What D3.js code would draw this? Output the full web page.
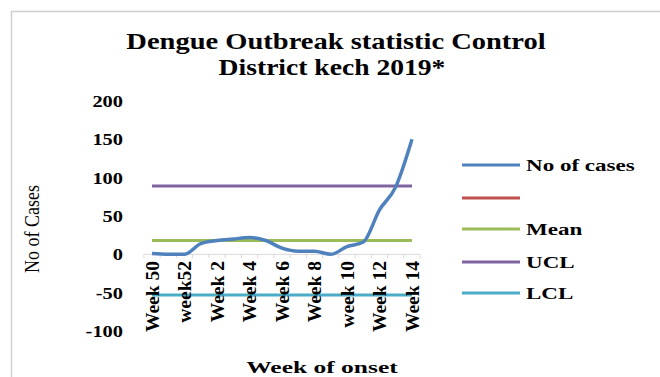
<!DOCTYPE html>
<html>
<head>
<meta charset="utf-8">
<script src="https://cdn.jsdelivr.net/npm/d3@7/dist/d3.min.js"></script>
<style>
  html, body { margin: 0; padding: 0; background: #fff; }
  svg { display: block; }
  text { font-family: "Liberation Serif", "Times New Roman", serif; fill: #000; }
</style>
</head>
<body>
<svg id="chart" width="660" height="377"></svg>
<script>
// Weekly dengue cases, week 50 (2018) through week 14 (2019)
const weeks = ["Week 50", "Week 51", "week52", "Week 1", "Week 2", "Week 3", "Week 4", "Week 5",
               "Week 6", "Week 7", "Week 8", "Week 9", "week 10", "Week 11", "Week 12", "Week 13", "Week 14"];
const cases = [1, 0, 0, 14, 18, 20, 22, 18, 8, 4, 4, 0, 10, 16, 58, 88, 150];
const meanValue = 18;
const uclValue = 89;
const lclValue = -53;
const yTicks = [200, 150, 100, 50, 0, -50, -100];
// every other week gets a label on the category axis
const labelledWeeks = ["Week 50", "week52", "Week 2", "Week 4", "Week 6", "Week 8", "week 10", "Week 12", "Week 14"];
const legendNames = ["No of cases", "", "Mean", "UCL", "LCL"];
const legendColors = ["#4F81BD", "#C0504D", "#9BBB59", "#8064A2", "#4BACC6"];

const svg = d3.select("#chart");

// outer chart frame
svg.append("rect")
  .attr("x", 11.5).attr("y", 11.5)
  .attr("width", 700).attr("height", 400)
  .attr("fill", "none").attr("stroke", "#d0d0d0").attr("stroke-width", 1.5);

// wide serif text: anchor at (x, y), then stretch horizontally
function wideText(g, x, y, sx, txt) {
  return g.append("text")
    .attr("transform", `translate(${x},${y}) scale(${sx},1)`)
    .text(txt);
}

// title
const titleG = svg.append("g")
  .attr("text-anchor", "middle")
  .attr("font-weight", "bold")
  .attr("font-size", 23);
wideText(titleG, 336, 49, 1.24, "Dengue Outbreak statistic Control");
wideText(titleG, 332, 75, 1.2, "District kech 2019*");

const x = d3.scalePoint().domain(weeks).range([152, 412]);
const y = d3.scaleLinear().domain([-100, 200]).range([331, 101]);

// y tick labels
svg.append("g").selectAll("text")
  .data(yTicks)
  .join("text")
  .attr("transform", d => `translate(123,${y(d)}) scale(1.2,1)`)
  .attr("dy", "0.35em")
  .attr("text-anchor", "end")
  .attr("font-weight", "bold")
  .attr("font-size", 17)
  .text(d => d);

// category axis along the zero line
const xAxisG = svg.append("g").attr("transform", `translate(0,${y(0)})`);
xAxisG.append("line")
  .attr("x1", x(weeks[0]) - x.step() / 2).attr("x2", x(weeks[weeks.length - 1]) + x.step() / 2)
  .attr("stroke", "#d9d9d9").attr("stroke-width", 1);
xAxisG.selectAll("line.tick")
  .data(d3.range(weeks.length + 1))
  .join("line")
  .attr("class", "tick")
  .attr("x1", i => x(weeks[0]) + (i - 0.5) * x.step())
  .attr("x2", i => x(weeks[0]) + (i - 0.5) * x.step())
  .attr("y1", 0).attr("y2", 4)
  .attr("stroke", "#d9d9d9");

// reference lines
const refs = [
  { value: meanValue, color: legendColors[2] },
  { value: uclValue, color: legendColors[3] },
  { value: lclValue, color: legendColors[4] }
];
svg.append("g").selectAll("line")
  .data(refs)
  .join("line")
  .attr("x1", x(weeks[0]))
  .attr("x2", x(weeks[weeks.length - 1]))
  .attr("y1", d => y(d.value))
  .attr("y2", d => y(d.value))
  .attr("stroke", d => d.color)
  .attr("stroke-width", 3);

// cases line
const line = d3.line()
  .x((d, i) => x(weeks[i]))
  .y(d => y(d))
  .curve(d3.curveMonotoneX);
svg.append("path")
  .datum(cases)
  .attr("d", line)
  .attr("fill", "none")
  .attr("stroke", legendColors[0])
  .attr("stroke-width", 3.5)
  .attr("stroke-linejoin", "round");

// rotated week labels
svg.append("g").selectAll("text")
  .data(labelledWeeks)
  .join("text")
  .attr("transform", d => `translate(${x(d)},261) rotate(-90)`)
  .attr("dy", "0.35em")
  .attr("text-anchor", "end")
  .attr("font-weight", "bold")
  .attr("font-size", 19.5)
  .text(d => d);

// axis titles
svg.append("text")
  .attr("transform", "translate(31,229) scale(1.2,1) rotate(-90)")
  .attr("text-anchor", "middle")
  .attr("dy", "0.35em")
  .attr("font-size", 18)
  .text("No of Cases");

svg.append("text")
  .attr("transform", "translate(322,373) scale(1.5,1)")
  .attr("text-anchor", "middle")
  .attr("font-weight", "bold")
  .attr("font-size", 17)
  .text("Week of onset");

// legend
const legendY = [165, 198, 229, 262, 293];
const legend = svg.append("g").selectAll("g")
  .data(legendNames)
  .join("g")
  .attr("transform", (d, i) => `translate(0,${legendY[i]})`);
legend.append("line")
  .attr("x1", 462).attr("x2", 520)
  .attr("stroke", (d, i) => legendColors[i])
  .attr("stroke-width", 3);
legend.append("text")
  .attr("transform", "translate(526,0) scale(1.44,1)")
  .attr("dy", "0.35em")
  .attr("font-weight", "bold")
  .attr("font-size", 16)
  .text(d => d);
</script>
</body>
</html>
